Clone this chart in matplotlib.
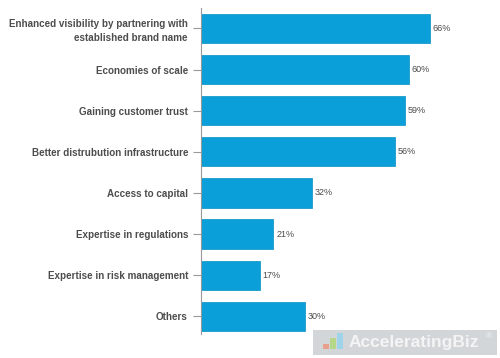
import matplotlib.pyplot as plt
from matplotlib.patches import Rectangle

categorias = [
    "Enhanced visibility by partnering with\nestablished brand name",
    "Economies of scale",
    "Gaining customer trust",
    "Better distrubution infrastructure",
    "Access to capital",
    "Expertise in regulations",
    "Expertise in risk management",
    "Others",
]
valores = [66, 60, 59, 56, 32, 21, 17, 30]
etiquetas = ["66%", "60%", "59%", "56%", "32%", "21%", "17%", "30%"]

plt.rcParams['font.family'] = ['Liberation Sans', 'DejaVu Sans']

fig = plt.figure(figsize=(5, 3.58), dpi=100)
ax = fig.add_axes([0.401, 0.067, 0.59, 0.911])

pos = list(range(len(categorias)))
ax.barh(pos, valores, height=0.71, color='#0a9fd8', edgecolor='#0890c4', linewidth=0.5)

for y, v, t in zip(pos, valores, etiquetas):
    ax.text(v + 0.8, y, t, va='center', ha='left', fontsize=6.5, color='#4a4a4a')

ax.set_yticks(pos)
ax.set_yticklabels(categorias, fontsize=7.1, fontweight='bold', color='#4d4d4d',
                   linespacing=1.4)
ax.set_ylim(7.43, -0.5)
ax.set_xlim(0, 85)
ax.set_xticks([])

for lado in ['top', 'right', 'bottom']:
    ax.spines[lado].set_visible(False)
ax.spines['left'].set_color('#999999')
ax.spines['left'].set_linewidth(0.8)
ax.tick_params(axis='y', length=6, width=0.8, color='#999999', pad=3)

# marca de agua
fig.patches.append(Rectangle((0.626, 0.008), 0.368, 0.070, transform=fig.transFigure,
                             facecolor='#c8ccd0', edgecolor='none', alpha=0.8))
fig.text(0.698, 0.043, "AcceleratingBiz", fontsize=12.5, fontweight='bold', color='#f4f4f4',
         va='center', ha='left')
fig.text(0.978, 0.06, "®", fontsize=6, color='#f4f4f4', va='center', ha='center')
fig.patches.append(Rectangle((0.645, 0.025), 0.012, 0.015, transform=fig.transFigure,
                             facecolor='#e7a08a', edgecolor='none'))
fig.patches.append(Rectangle((0.659, 0.025), 0.012, 0.030, transform=fig.transFigure,
                             facecolor='#b6d68a', edgecolor='none'))
fig.patches.append(Rectangle((0.673, 0.025), 0.012, 0.045, transform=fig.transFigure,
                             facecolor='#9fd3ea', edgecolor='none'))

fig.savefig("out.png", dpi=100)
